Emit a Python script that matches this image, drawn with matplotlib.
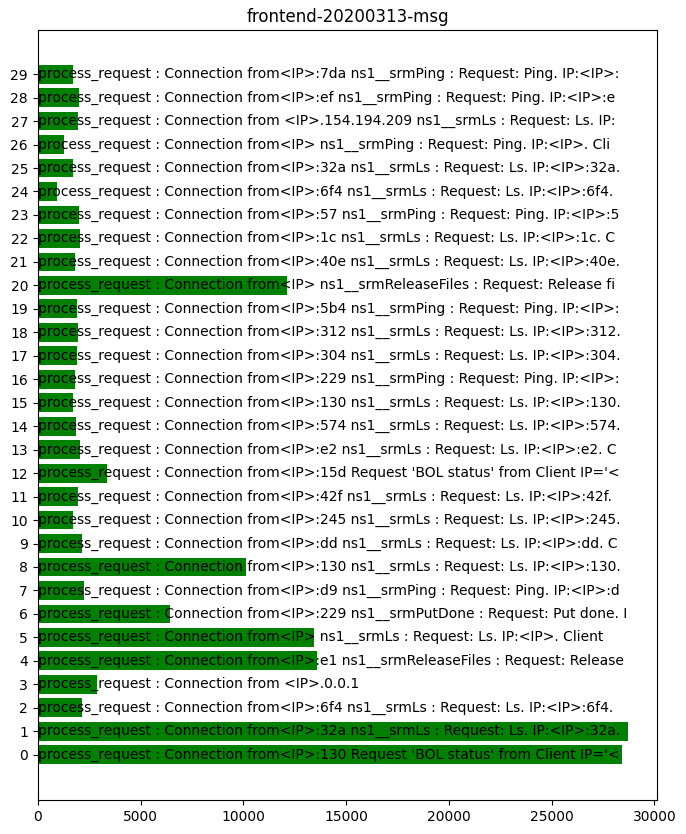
import matplotlib
matplotlib.use("Agg")
import matplotlib.pyplot as plt

# counts per message template (bar lengths)
counts = [28400, 28700, 2150, 2890, 13590, 13440, 6440, 2250, 10120, 2150,
          1700, 1960, 3380, 2060, 1870, 1740, 1810, 1910, 1960, 1910,
          12120, 1810, 2060, 2020, 940, 1740, 1280, 1960, 2020, 1740]

msgs = [
    "process_request : Connection from<IP>:130 Request 'BOL status' from Client IP='<",
    "process_request : Connection from<IP>:32a ns1__srmLs : Request: Ls. IP:<IP>:32a.",
    "process_request : Connection from<IP>:6f4 ns1__srmLs : Request: Ls. IP:<IP>:6f4.",
    "process_request : Connection from <IP>.0.0.1",
    "process_request : Connection from<IP>:e1 ns1__srmReleaseFiles : Request: Release",
    "process_request : Connection from<IP> ns1__srmLs : Request: Ls. IP:<IP>. Client",
    "process_request : Connection from<IP>:229 ns1__srmPutDone : Request: Put done. I",
    "process_request : Connection from<IP>:d9 ns1__srmPing : Request: Ping. IP:<IP>:d",
    "process_request : Connection from<IP>:130 ns1__srmLs : Request: Ls. IP:<IP>:130.",
    "process_request : Connection from<IP>:dd ns1__srmLs : Request: Ls. IP:<IP>:dd. C",
    "process_request : Connection from<IP>:245 ns1__srmLs : Request: Ls. IP:<IP>:245.",
    "process_request : Connection from<IP>:42f ns1__srmLs : Request: Ls. IP:<IP>:42f.",
    "process_request : Connection from<IP>:15d Request 'BOL status' from Client IP='<",
    "process_request : Connection from<IP>:e2 ns1__srmLs : Request: Ls. IP:<IP>:e2. C",
    "process_request : Connection from<IP>:574 ns1__srmLs : Request: Ls. IP:<IP>:574.",
    "process_request : Connection from<IP>:130 ns1__srmLs : Request: Ls. IP:<IP>:130.",
    "process_request : Connection from<IP>:229 ns1__srmPing : Request: Ping. IP:<IP>:",
    "process_request : Connection from<IP>:304 ns1__srmLs : Request: Ls. IP:<IP>:304.",
    "process_request : Connection from<IP>:312 ns1__srmLs : Request: Ls. IP:<IP>:312.",
    "process_request : Connection from<IP>:5b4 ns1__srmPing : Request: Ping. IP:<IP>:",
    "process_request : Connection from<IP> ns1__srmReleaseFiles : Request: Release fi",
    "process_request : Connection from<IP>:40e ns1__srmLs : Request: Ls. IP:<IP>:40e.",
    "process_request : Connection from<IP>:1c ns1__srmLs : Request: Ls. IP:<IP>:1c. C",
    "process_request : Connection from<IP>:57 ns1__srmPing : Request: Ping. IP:<IP>:5",
    "process_request : Connection from<IP>:6f4 ns1__srmLs : Request: Ls. IP:<IP>:6f4.",
    "process_request : Connection from<IP>:32a ns1__srmLs : Request: Ls. IP:<IP>:32a.",
    "process_request : Connection from<IP> ns1__srmPing : Request: Ping. IP:<IP>. Cli",
    "process_request : Connection from <IP>.154.194.209 ns1__srmLs : Request: Ls. IP:",
    "process_request : Connection from<IP>:ef ns1__srmPing : Request: Ping. IP:<IP>:e",
    "process_request : Connection from<IP>:7da ns1__srmPing : Request: Ping. IP:<IP>:",
]

fig, ax = plt.subplots(figsize=(6.86, 8.34), dpi=100)
fig.subplots_adjust(left=0.055, right=0.958, top=0.964, bottom=0.041)

pos = list(range(len(counts)))
ax.barh(pos, counts, color="green")
for i, m in enumerate(msgs):
    ax.text(0, i, m, va="center", ha="left", fontsize=10)

ax.set_yticks(pos)
ax.set_ylim(-1.92, 30.88)
ax.set_title("frontend-20200313-msg")

fig.savefig("out.png")
